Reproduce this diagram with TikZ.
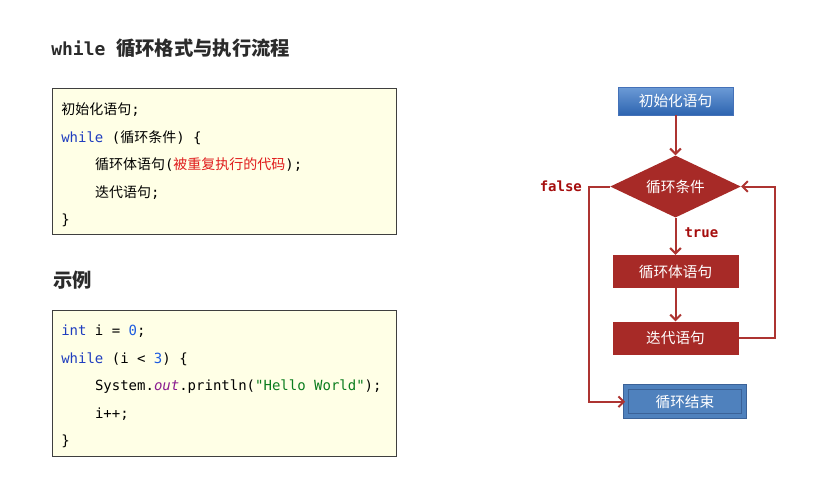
\documentclass[tikz,border=0pt]{standalone}
\usepackage{fontspec}
\setmainfont{DejaVu Sans}
\setmonofont{DejaVu Sans Mono}
\newfontfamily\cjk{Noto Sans CJK SC}
\usepackage{xcolor}
\usetikzlibrary{arrows.meta,positioning,shapes.geometric}

\definecolor{titlegray}{HTML}{2B2B2B}
\definecolor{boxfill}{HTML}{FFFFE6}
\definecolor{boxline}{HTML}{3F3F3F}
\definecolor{kw}{HTML}{1F3DBF}
\definecolor{num}{HTML}{1C5BE0}
\definecolor{strgreen}{HTML}{0A7D1E}
\definecolor{field}{HTML}{8A1B8F}
\definecolor{codered}{HTML}{E01B1B}
\definecolor{flowred}{HTML}{A72A27}
\definecolor{flowline}{HTML}{AD3431}
\definecolor{tfred}{HTML}{A50D0D}
\definecolor{starttop}{HTML}{6C9BD6}
\definecolor{startbot}{HTML}{2D64B0}
\definecolor{startline}{HTML}{4471B8}
\definecolor{endfill}{HTML}{4F81BD}
\definecolor{endline}{HTML}{3B6298}

\newcommand\ind{\hspace*{25.3pt}}

\begin{document}
\begin{tikzpicture}[x=0.75pt,y=-0.75pt,>={Straight Barb[length=4pt,width=8pt]},
  codebox/.style={draw=boxline,line width=1pt,fill=boxfill,anchor=north west,
    minimum width=258pt,minimum height=109.5pt},
  code/.style={anchor=north west,align=left,inner sep=0pt,
    font=\ttfamily\fontsize{10.5pt}{20.7pt}\selectfont},
  flowbox/.style={fill=flowred,text=white,minimum width=94.5pt,minimum height=24.75pt,
    font=\cjk\fontsize{11pt}{13pt}\selectfont},
  flow/.style={->,draw=flowline,line width=1.5pt},
  tf/.style={text=tfred,inner sep=0pt,font=\ttfamily\bfseries\fontsize{10.5pt}{12pt}\selectfont}]

\useasboundingbox (0,0) rectangle (834,493);

% left side: syntax and example
\node[anchor=west,inner sep=0pt,text=titlegray,font=\bfseries\fontsize{13.5pt}{16pt}\selectfont] (title) at (51,48)
  {\ttfamily while {\cjk\fontsize{14.5pt}{16pt}\selectfont 循环格式与执行流程}};
\node[codebox] (syntaxbox) at (52,88) {};
\node[code] (syntax) at ([shift={(9,14.5)}]syntaxbox.north west) {%
  {\cjk 初始化语句};\\
  \textcolor{kw}{while} ({\cjk 循环条件}) \{\\
  \ind{\cjk 循环体语句}(\textcolor{codered}{\cjk 被重复执行的代码});\\
  \ind{\cjk 迭代语句};\\
  \}};
\node[anchor=west,inner sep=0pt,text=titlegray,font=\cjk\bfseries\fontsize{14.5pt}{16pt}\selectfont] (extitle) at (53,280) {示例};
\node[codebox] (examplebox) at (52,310) {};
\node[code] (example) at ([shift={(9,14.5)}]examplebox.north west) {%
  \textcolor{kw}{int} i = \textcolor{num}{0};\\
  \textcolor{kw}{while} (i < \textcolor{num}{3}) \{\\
  \ind System.\textcolor{field}{\itshape out}.println(\textcolor{strgreen}{"Hello World"});\\
  \ind i++;\\
  \}};

% right side: flow chart
\node[draw=startline,top color=starttop,bottom color=startbot,text=white,minimum width=86pt,minimum height=21pt,
  font=\cjk\fontsize{11pt}{13pt}\selectfont] (init) at (675.5,101) {初始化语句};
\node[diamond,aspect=2,fill=flowred,text=white,minimum width=98pt,minimum height=46.5pt,inner sep=0pt,below=30pt of init,
  font=\cjk\fontsize{11pt}{13pt}\selectfont] (cond) {循环条件};
\node[flowbox,below=27.75pt of cond] (body) {循环体语句};
\node[flowbox,below=24.75pt of body] (iter) {迭代语句};
\node[draw=endline,line width=0.8pt,double=endfill,double distance=3pt,fill=endfill,text=white,
  minimum width=89pt,minimum height=21.5pt,below=24pt of iter,xshift=7.1pt,
  font=\cjk\fontsize{11pt}{13pt}\selectfont] (stop) {循环结束};

\draw[flow] (init) -- (cond);
\draw[flow] (cond) -- node[tf,anchor=west,xshift=6pt,pos=0.4] (truelbl) {true} (body);
\draw[flow] (body) -- (iter);
\draw[flow] (iter.east) -- ++(27pt,0) |- (cond.east);
\draw[flow] (cond.west) -- ++(-15.75pt,0) node[tf,anchor=east,xshift=-4.5pt] (falselbl) {false} |- (stop.west);
\end{tikzpicture}
\end{document}
